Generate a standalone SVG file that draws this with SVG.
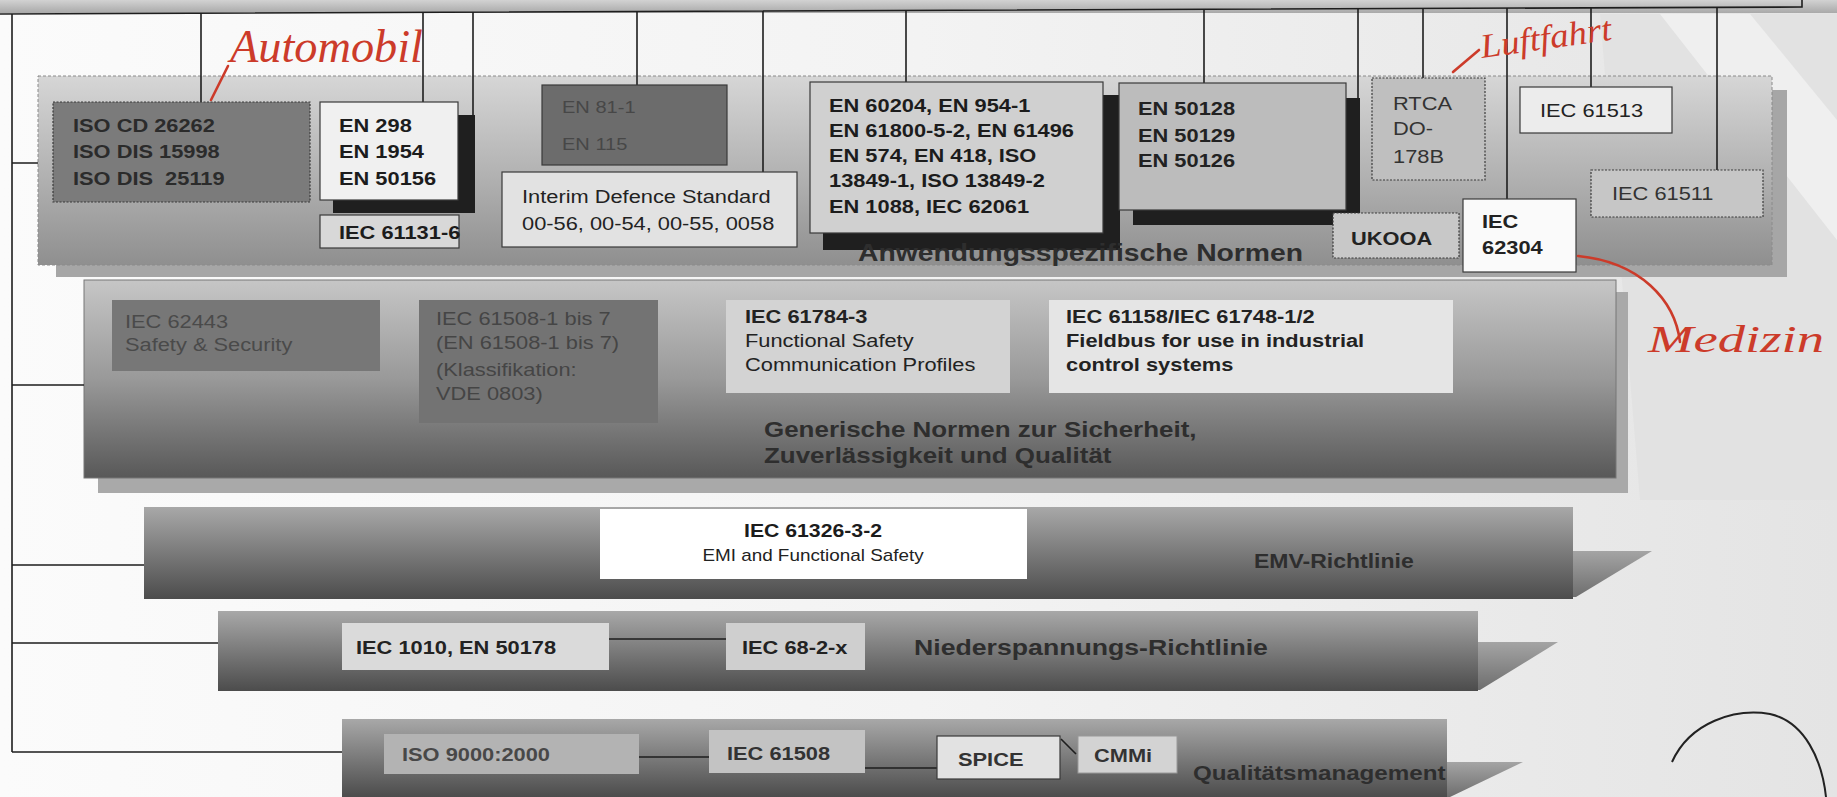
<svg xmlns="http://www.w3.org/2000/svg" width="1837" height="797" viewBox="0 0 1837 797">
<defs>
<linearGradient id="bg" x1="0" y1="0" x2="1" y2="0"><stop offset="0" stop-color="#fbfbfb"/><stop offset="0.5" stop-color="#f3f3f3"/><stop offset="1" stop-color="#e4e4e4"/></linearGradient>
<linearGradient id="topband" x1="0" y1="0" x2="0" y2="1"><stop offset="0" stop-color="#d2d2d2"/><stop offset="1" stop-color="#a9a9a9"/></linearGradient>
<linearGradient id="gApp" x1="0" y1="0" x2="0" y2="1"><stop offset="0" stop-color="#d6d6d6"/><stop offset="0.55" stop-color="#b0b0b0"/><stop offset="1" stop-color="#8f8f8f"/></linearGradient>
<linearGradient id="gGen" x1="0" y1="0" x2="0" y2="1"><stop offset="0" stop-color="#c6c6c6"/><stop offset="0.5" stop-color="#999"/><stop offset="1" stop-color="#585858"/></linearGradient>
<linearGradient id="gBar" x1="0" y1="0" x2="0" y2="1"><stop offset="0" stop-color="#a8a8a8"/><stop offset="0.5" stop-color="#7a7a7a"/><stop offset="1" stop-color="#4c4c4c"/></linearGradient>
<linearGradient id="gTail" x1="0" y1="0" x2="0" y2="1"><stop offset="0" stop-color="#a4a4a4"/><stop offset="1" stop-color="#6e6e6e"/></linearGradient>
</defs>
<style>
text{font-family:"Liberation Sans",Arial,sans-serif;font-size:18.5px;fill:#1c1c1c}
.b{font-weight:bold}
.lbl{font-size:22px;font-weight:bold;fill:#2e2e2e}
.c{stroke:#1e1e1e;stroke-width:1.6;fill:none}
.box{stroke:#3a3a3a;stroke-width:1.2}
.dot{stroke:#3a3a3a;stroke-width:1.2;stroke-dasharray:2 1.5}
.sh{fill:#1f1f1f}
.red{stroke:#cc3b2a;stroke-width:2.6;fill:none;stroke-linecap:round}
text.hand{font-family:"Liberation Serif",serif;font-style:italic;fill:#cc3b2a}
</style>

<!-- background -->
<rect x="0" y="0" width="1837" height="797" fill="url(#bg)"/>
<polygon points="1600,14 1837,14 1837,500 1640,500" fill="#e2e2e2"/>
<polygon points="1660,14 1750,14 1837,120 1837,240" fill="#efefef"/>
<rect x="0" y="0" width="1837" height="13" fill="url(#topband)"/>

<!-- category panels -->
<g id="panel-app">
<rect x="56" y="90" width="1731" height="187" fill="#a6a6a6"/>
<rect x="38" y="76" width="1734" height="189" fill="url(#gApp)" stroke="#8a8a8a" stroke-width="1" stroke-dasharray="3 2"/>
</g>
<g id="panel-generic">
<rect x="98" y="292" width="1530" height="201" fill="#a9a9a9"/>
<rect x="84" y="280" width="1532" height="198" fill="url(#gGen)" stroke="#777" stroke-width="1"/>
<text class="lbl" transform="matrix(1.18 0 0 1 764 437)"><tspan x="0" y="0">Generische Normen zur Sicherheit,</tspan><tspan x="0" y="26">Zuverlässigkeit und Qualität</tspan></text>
</g>
<g id="panel-emv">
<polygon points="1573,551 1652,551 1576,597 1573,597" fill="url(#gTail)"/>
<rect x="144" y="507" width="1429" height="92" fill="url(#gBar)"/>
<text class="lbl" style="font-size:19.5px" transform="matrix(1.18 0 0 1 1254 568)">EMV-Richtlinie</text>
</g>
<g id="panel-nieder">
<polygon points="1478,642 1558,642 1480,690 1478,690" fill="url(#gTail)"/>
<rect x="218" y="611" width="1260" height="80" fill="url(#gBar)"/>
<text class="lbl" style="font-size:22.6px" transform="matrix(1.18 0 0 1 914 655)">Niederspannungs-Richtlinie</text>
</g>
<g id="panel-quality">
<polygon points="1447,762 1523,762 1450,797 1447,797" fill="url(#gTail)"/>
<rect x="342" y="719" width="1105" height="78" fill="url(#gBar)"/>
<text class="lbl" style="font-size:20.5px" transform="matrix(1.18 0 0 1 1193 780)">Qualitätsmanagement</text>
</g>

<!-- connectors -->
<g id="connectors">
<path class="c" d="M0,14 L1802,7 V0"/>
<path class="c" d="M12,14 V752 M12,163 H38 M12,385 H84 M12,565 H144 M12,643 H218 M12,752 H342"/>
<path class="c" d="M201,13 V102 M423,12 V102 M473,12 V115 M637,11 V85 M763,11 V172 M906,10 V82 M1204,9 V83 M1358,9 V98 M1423,8 V78 M1507,8 V199 M1591,8 V87 M1717,7 V170"/>
<path class="c" stroke-width="2" d="M609,639 H726 M639,757 H709 M865,768 H937 M1061,739 L1076,754"/>
</g>

<!-- application-specific standards -->
<g id="iso26262">
<rect class="dot" x="53" y="102" width="257" height="100" fill="#7b7b7b"/>
<text class="b" style="fill:#2b2b2b;white-space:pre" transform="matrix(1.18 0 0 1 73 132)"><tspan x="0" y="0">ISO CD 26262</tspan><tspan x="0" y="26">ISO DIS 15998</tspan><tspan x="0" y="53">ISO DIS  25119</tspan></text>
</g>
<g id="en298">
<rect class="sh" x="333" y="115" width="142" height="98"/>
<rect class="box" x="320" y="102" width="138" height="98" fill="#f0f0f0"/>
<text class="b" transform="matrix(1.18 0 0 1 339 132)"><tspan x="0" y="0">EN 298</tspan><tspan x="0" y="26">EN 1954</tspan><tspan x="0" y="53">EN 50156</tspan></text>
</g>
<g id="iec61131">
<rect class="box" x="320" y="215" width="139" height="33" fill="#d8d8d8"/>
<text class="b" transform="matrix(1.18 0 0 1 339 239)">IEC 61131-6</text>
</g>
<g id="en81">
<rect class="box" x="542" y="85" width="185" height="80" fill="#6c6c6c"/>
<text style="font-size:17px;fill:#474747" transform="matrix(1.18 0 0 1 562 113)"><tspan x="0" y="0">EN 81-1</tspan><tspan x="0" y="37">EN 115</tspan></text>
</g>
<g id="defstan">
<rect class="box" x="502" y="172" width="295" height="75" fill="#e2e2e2"/>
<text style="fill:#222" transform="matrix(1.18 0 0 1 522 203)"><tspan x="0" y="0">Interim Defence Standard</tspan><tspan x="0" y="27">00-56, 00-54, 00-55, 0058</tspan></text>
</g>
<g id="en60204">
<rect class="sh" x="823" y="95" width="297" height="155"/>
<rect class="box" x="810" y="82" width="293" height="151" fill="#d0d0d0"/>
<text class="b" transform="matrix(1.18 0 0 1 829 112)"><tspan x="0" y="0">EN 60204, EN 954-1</tspan><tspan x="0" y="25">EN 61800-5-2, EN 61496</tspan><tspan x="0" y="50">EN 574, EN 418, ISO</tspan><tspan x="0" y="75">13849-1, ISO 13849-2</tspan><tspan x="0" y="101">EN 1088, IEC 62061</tspan></text>
</g>
<g id="en50128">
<rect class="sh" x="1133" y="98" width="227" height="127"/>
<rect class="box" x="1119" y="83" width="227" height="127" fill="#bcbcbc"/>
<text class="b" style="fill:#222" transform="matrix(1.18 0 0 1 1138 115)"><tspan x="0" y="0">EN 50128</tspan><tspan x="0" y="27">EN 50129</tspan><tspan x="0" y="52">EN 50126</tspan></text>
</g>
<g id="rtca">
<rect class="dot" x="1372" y="78" width="113" height="102" fill="#bfbfbf"/>
<text style="fill:#333" transform="matrix(1.18 0 0 1 1393 110)"><tspan x="0" y="0">RTCA</tspan><tspan x="0" y="25">DO-</tspan><tspan x="0" y="53">178B</tspan></text>
</g>
<g id="iec61513">
<rect class="box" x="1520" y="87" width="152" height="46" fill="#ececec"/>
<text style="fill:#222" transform="matrix(1.18 0 0 1 1540 117)">IEC 61513</text>
</g>
<g id="iec61511">
<rect class="dot" x="1591" y="170" width="172" height="47" fill="#c6c6c6"/>
<text style="fill:#333" transform="matrix(1.18 0 0 1 1612 200)">IEC 61511</text>
</g>
<g id="ukooa">
<rect class="dot" x="1333" y="213" width="126" height="45" fill="#c8c8c8"/>
<text class="b" style="fill:#222" transform="matrix(1.18 0 0 1 1351 245)">UKOOA</text>
</g>
<g id="iec62304">
<rect class="box" x="1463" y="199" width="113" height="73" fill="#fafafa"/>
<text class="b" style="fill:#222" transform="matrix(1.18 0 0 1 1482 228)"><tspan x="0" y="0">IEC</tspan><tspan x="0" y="26">62304</tspan></text>
</g>
<g id="label-app">
<text class="lbl" style="font-size:24px" transform="matrix(1.18 0 0 1 858 261)">Anwendungsspezifische Normen</text>
</g>

<!-- generic standards -->
<g id="iec62443">
<rect x="112" y="300" width="268" height="71" fill="#777"/>
<text style="fill:#4a4a4a" transform="matrix(1.18 0 0 1 125 328)"><tspan x="0" y="0">IEC 62443</tspan><tspan x="0" y="23">Safety &amp; Security</tspan></text>
</g>
<g id="iec61508-gen">
<rect x="419" y="300" width="239" height="123" fill="#737373"/>
<text style="fill:#454545" transform="matrix(1.18 0 0 1 436 325)"><tspan x="0" y="0">IEC 61508-1 bis 7</tspan><tspan x="0" y="24">(EN 61508-1 bis 7)</tspan><tspan x="0" y="51">(Klassifikation:</tspan><tspan x="0" y="75">VDE 0803)</tspan></text>
</g>
<g id="iec61784">
<rect x="726" y="300" width="284" height="93" fill="#d3d3d3"/>
<text style="fill:#222" transform="matrix(1.18 0 0 1 745 323)"><tspan class="b" x="0" y="0">IEC 61784-3</tspan><tspan x="0" y="24">Functional Safety</tspan><tspan x="0" y="48">Communication Profiles</tspan></text>
</g>
<g id="iec61158">
<rect x="1049" y="300" width="404" height="93" fill="#e5e5e5"/>
<text class="b" style="fill:#222" transform="matrix(1.18 0 0 1 1066 323)"><tspan x="0" y="0">IEC 61158/IEC 61748-1/2</tspan><tspan x="0" y="24">Fieldbus for use in industrial</tspan><tspan x="0" y="48">control systems</tspan></text>
</g>

<!-- EMV -->
<g id="iec61326">
<rect x="600" y="509" width="427" height="70" fill="#ffffff"/>
<text class="b" style="font-size:18px;text-anchor:middle" transform="matrix(1.18 0 0 1 813 537)">IEC 61326-3-2</text>
<text style="font-size:16px;text-anchor:middle;fill:#222" transform="matrix(1.18 0 0 1 813 561)">EMI and Functional Safety</text>
</g>

<!-- Niederspannung -->
<g id="iec1010">
<rect x="342" y="623" width="267" height="47" fill="#dadada"/>
<text class="b" style="fill:#222" transform="matrix(1.18 0 0 1 356 654)">IEC 1010, EN 50178</text>
</g>
<g id="iec68">
<rect x="726" y="623" width="139" height="47" fill="#cfcfcf"/>
<text class="b" style="fill:#222" transform="matrix(1.18 0 0 1 742 654)">IEC 68-2-x</text>
</g>

<!-- Qualitaet -->
<g id="iso9000">
<rect x="384" y="734" width="255" height="40" fill="#b3b3b3"/>
<text class="b" style="fill:#484848" transform="matrix(1.18 0 0 1 402 761)">ISO 9000:2000</text>
</g>
<g id="iec61508-q">
<rect x="709" y="730" width="156" height="43" fill="#c3c3c3"/>
<text class="b" style="fill:#333" transform="matrix(1.18 0 0 1 727 760)">IEC 61508</text>
</g>
<g id="spice">
<rect class="box" x="937" y="736" width="123" height="43" fill="#e2e2e2"/>
<text class="b" style="fill:#333" transform="matrix(1.18 0 0 1 958 766)">SPICE</text>
</g>
<g id="cmmi">
<rect x="1078" y="736" width="99" height="37" fill="#d3d3d3" stroke="#999" stroke-width="1"/>
<text class="b" style="fill:#333" transform="matrix(1.18 0 0 1 1094 762)">CMMi</text>
</g>

<!-- handwritten annotations -->
<g id="annotations">
<path class="red" d="M228,66 L211,100"/>
<text class="hand" x="230" y="62" style="font-size:46px" textLength="193" lengthAdjust="spacingAndGlyphs">Automobil</text>
<path class="red" d="M1479,50 L1453,72"/>
<text class="hand" style="font-size:34px" textLength="132" lengthAdjust="spacingAndGlyphs" transform="translate(1482,58) rotate(-8)">Luftfahrt</text>
<path class="red" d="M1578,256 C1640,262 1675,300 1680,342"/>
<text class="hand" x="1648" y="352" style="font-size:38px" textLength="176" lengthAdjust="spacingAndGlyphs">Medizin</text>
<path d="M1672,762 C1690,722 1735,708 1770,714 C1805,722 1822,760 1826,797" fill="none" stroke="#222" stroke-width="2"/>
</g>
</svg>
